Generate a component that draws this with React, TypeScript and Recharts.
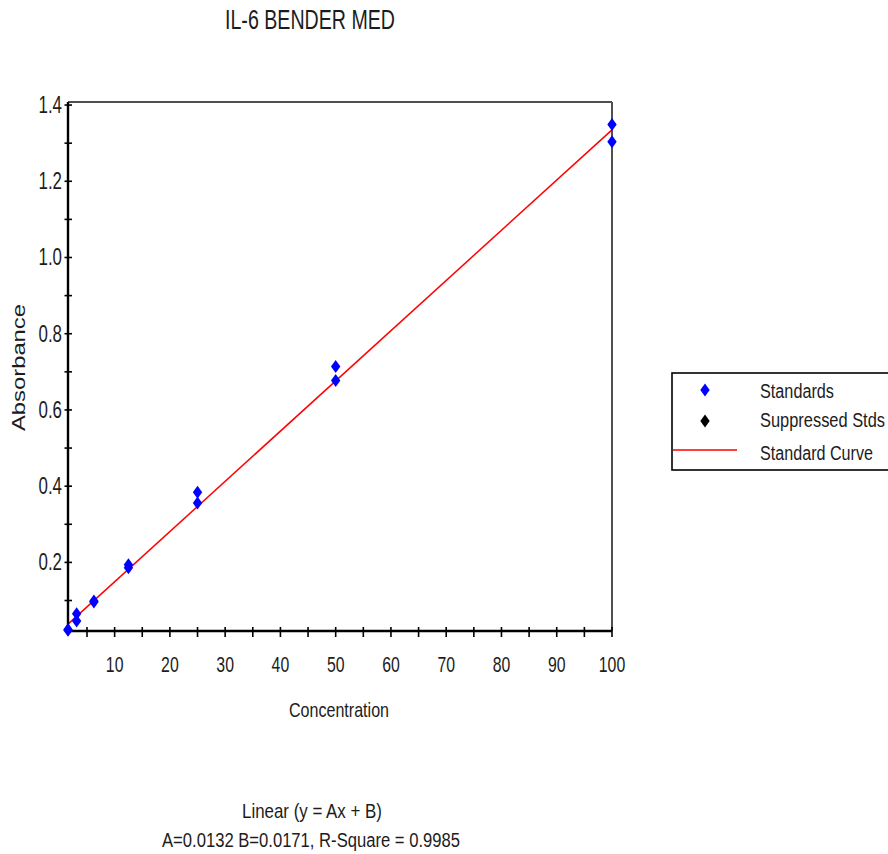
import React from "react";
import { ComposedChart, Scatter, Line, XAxis, YAxis, Legend, ReferenceLine } from "recharts";

// Standards (duplicates per concentration)
const standardConc = [1.5625, 1.5625, 3.125, 3.125, 6.25, 6.25, 12.5, 12.5, 25, 25, 50, 50, 100, 100];
const standardAbs = [0.024, 0.022, 0.065, 0.046, 0.099, 0.096, 0.194, 0.186, 0.384, 0.356, 0.714, 0.677, 1.349, 1.304];

// Suppressed standards: none in this run
const suppressedConc: number[] = [];
const suppressedAbs: number[] = [];

// Fitted standard curve (linear), end points
const curveConc = [1.5625, 100];
const curveAbs = [0.038, 1.335];

const xTicks = [5, 10, 15, 20, 25, 30, 35, 40, 45, 50, 55, 60, 65, 70, 75, 80, 85, 90, 95, 100];
const yTicks = [0.1, 0.2, 0.3, 0.4, 0.5, 0.6, 0.7, 0.8, 0.9, 1.0, 1.1, 1.2, 1.3, 1.4];

const xDomain = [1.5625, 100];
const yDomain = [0.02, 1.408];

const TEXT = "#1c1c1c";
const FONT = "'Liberation Sans', Arial, sans-serif";

const standards = standardConc.map((x, i) => ({ x, y: standardAbs[i] }));
const suppressed = suppressedConc.map((x, i) => ({ x, y: suppressedAbs[i] }));
const curve = curveConc.map((x, i) => ({ x, y: curveAbs[i] }));

function Diamond({ cx, cy, fill }: any) {
    if (cx == null || cy == null) return null;
    return <polygon points={`${cx},${cy - 6.5} ${cx + 4.7},${cy} ${cx},${cy + 6.5} ${cx - 4.7},${cy}`} fill={fill} />;
}

function XTick({ x, y, payload }: any) {
    const v = payload.value;
    const label = v % 10 === 0;
    const s = String(v);
    return (
        <g>
            <line x1={x} x2={x} y1={y - 4} y2={y + 6} stroke="#000" strokeWidth={1.6} />
            {label && (
                <text x={x} y={y + 41} textAnchor="middle" fontSize={21.5} fontFamily={FONT} fill={TEXT}
                    textLength={s.length * 8.8} lengthAdjust="spacingAndGlyphs">
                    {s}
                </text>
            )}
        </g>
    );
}

function YTick({ x, y, payload }: any) {
    const v = payload.value;
    const label = Math.round(v * 10) % 2 === 0;
    const s = v.toFixed(1);
    return (
        <g>
            <line x1={x - 3.5} x2={x + 4} y1={y} y2={y} stroke="#000" strokeWidth={1.6} />
            {label && (
                <text x={x - 6} y={y + 8} textAnchor="end" fontSize={23} fontFamily={FONT} fill={TEXT}
                    textLength={23.5} lengthAdjust="spacingAndGlyphs">
                    {s}
                </text>
            )}
        </g>
    );
}

function LegendBox() {
    return (
        <svg width={217} height={100} style={{ display: "block" }}>
            <rect x={1} y={1} width={240} height={97} fill="#fff" stroke="#000" strokeWidth={1.6} />
            <Diamond cx={34} cy={18} fill="#0000ff" />
            <text x={89} y={26} fontSize={19.5} fontFamily={FONT} fill={TEXT} textLength={74} lengthAdjust="spacingAndGlyphs">Standards</text>
            <Diamond cx={34} cy={49} fill="#000" />
            <text x={89} y={55} fontSize={19.5} fontFamily={FONT} fill={TEXT} textLength={125} lengthAdjust="spacingAndGlyphs">Suppressed Stds</text>
            <line x1={2} x2={66} y1={78} y2={78} stroke="#ff0000" strokeWidth={1.5} />
            <text x={89} y={88} fontSize={19.5} fontFamily={FONT} fill={TEXT} textLength={113} lengthAdjust="spacingAndGlyphs">Standard Curve</text>
        </svg>
    );
}

export default function App() {
    return (
        <div style={{ position: "absolute", left: 0, top: 0, width: 888, height: 854, overflow: "hidden", background: "#fff" }}>
            <ComposedChart width={888} height={854} margin={{ top: 102, right: 276, left: 8, bottom: 163 }}>
                <XAxis
                    dataKey="x"
                    type="number"
                    domain={xDomain}
                    ticks={xTicks}
                    interval={0}
                    height={60}
                    tickSize={0}
                    tickMargin={0}
                    tickLine={false}
                    tick={<XTick />}
                    axisLine={{ stroke: "#000", strokeWidth: 2.4 }}
                    label={{
                        content: ({ viewBox }: any) => (
                            <text x={viewBox.x + viewBox.width / 2 - 1} y={viewBox.y + 86} textAnchor="middle" fontSize={21}
                                fontFamily={FONT} fill={TEXT} textLength={100} lengthAdjust="spacingAndGlyphs">
                                Concentration
                            </text>
                        ),
                    }}
                />
                <YAxis
                    dataKey="y"
                    type="number"
                    domain={yDomain}
                    ticks={yTicks}
                    interval={0}
                    width={60}
                    tickSize={0}
                    tickMargin={0}
                    tickLine={false}
                    tick={<YTick />}
                    axisLine={{ stroke: "#000", strokeWidth: 2.4 }}
                    label={{
                        content: ({ viewBox }: any) => {
                            const cx = 25;
                            const cy = viewBox.y + viewBox.height / 2 + 1;
                            return (
                                <text x={cx} y={cy} transform={`rotate(-90 ${cx} ${cy})`} textAnchor="middle" fontSize={18}
                                    fontFamily={FONT} fill={TEXT} textLength={127} lengthAdjust="spacingAndGlyphs">
                                    Absorbance
                                </text>
                            );
                        },
                    }}
                />
                {/* plot frame: top and right edges */}
                <ReferenceLine y={yDomain[1]} stroke="#505050" strokeWidth={2} />
                <ReferenceLine x={xDomain[1]} stroke="#505050" strokeWidth={2} />
                <Line name="Standard Curve" data={curve} dataKey="y" type="linear" stroke="#ff0000" strokeWidth={1.5}
                    dot={false} activeDot={false} isAnimationActive={false} />
                <Scatter name="Standards" data={standards} dataKey="y" fill="#0000ff" shape={<Diamond />} isAnimationActive={false} />
                <Scatter name="Suppressed Stds" data={suppressed} dataKey="y" fill="#000" shape={<Diamond />} isAnimationActive={false} />
                <Legend
                    layout="horizontal"
                    verticalAlign="middle"
                    align="center"
                    wrapperStyle={{ left: 671, top: 372, width: 217 }}
                    content={() => <LegendBox />}
                />
            </ComposedChart>
            <svg width={888} height={854} style={{ position: "absolute", left: 0, top: 0, pointerEvents: "none" }}>
                <text x={310} y={29} textAnchor="middle" fontSize={28} fontFamily={FONT} fill={TEXT}
                    textLength={170} lengthAdjust="spacingAndGlyphs">IL-6 BENDER MED</text>
                <text x={312} y={818} textAnchor="middle" fontSize={21} fontFamily={FONT} fill={TEXT}
                    textLength={140} lengthAdjust="spacingAndGlyphs">Linear (y = Ax + B)</text>
                <text x={311} y={847} textAnchor="middle" fontSize={20} fontFamily={FONT} fill={TEXT}
                    textLength={298} lengthAdjust="spacingAndGlyphs">A=0.0132  B=0.0171, R-Square = 0.9985</text>
            </svg>
        </div>
    );
}
